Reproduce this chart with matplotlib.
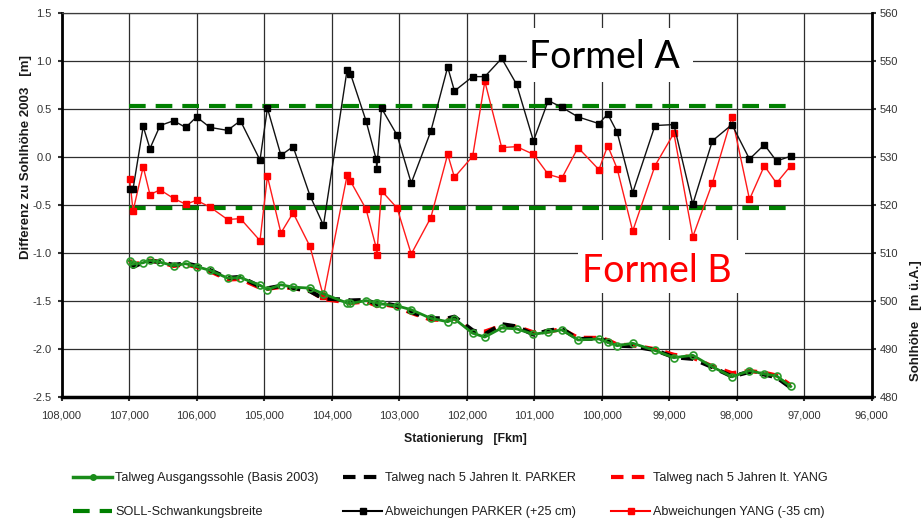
import matplotlib
matplotlib.use("Agg")
import matplotlib.pyplot as plt
from matplotlib.lines import Line2D
from matplotlib.patches import Rectangle
from matplotlib.ticker import MultipleLocator, FuncFormatter
from matplotlib import font_manager

# Stationierung in Fkm
station_km = [106.99, 106.94, 106.79, 106.69, 106.54, 106.34, 106.16, 106.00, 105.80, 105.54,
              105.35, 105.06, 104.95, 104.75, 104.57, 104.32, 104.12, 103.77, 103.72, 103.49,
              103.34, 103.33, 103.26, 103.03, 102.82, 102.53, 102.28, 102.18, 101.91, 101.73,
              101.48, 101.26, 101.01, 100.79, 100.59, 100.35, 100.04, 99.91, 99.77, 99.54,
              99.21, 98.93, 98.65, 98.36, 98.07, 97.81, 97.59, 97.41, 97.20]

# Abweichungen zur Sohlhöhe 2003 [m] (PARKER +25 cm, YANG -35 cm versetzt)
parker_dev = [-0.33, -0.33, 0.32, 0.09, 0.33, 0.38, 0.31, 0.42, 0.31, 0.28,
              0.38, -0.03, 0.51, 0.02, 0.11, -0.40, -0.71, 0.91, 0.87, 0.38,
              -0.02, -0.12, 0.51, 0.23, -0.27, 0.27, 0.94, 0.69, 0.84, 0.84,
              1.03, 0.76, 0.17, 0.59, 0.52, 0.42, 0.35, 0.45, 0.26, -0.37,
              0.33, 0.34, -0.49, 0.17, 0.34, -0.02, 0.13, -0.04, 0.01]
yang_dev = [-0.23, -0.56, -0.10, -0.39, -0.34, -0.43, -0.49, -0.45, -0.52, -0.65,
            -0.64, -0.87, -0.20, -0.79, -0.58, -0.93, -1.45, -0.19, -0.25, -0.54,
            -0.94, -1.02, -0.35, -0.53, -1.01, -0.63, 0.03, -0.21, 0.01, 0.79,
            0.10, 0.11, 0.03, -0.18, -0.22, 0.10, -0.13, 0.12, -0.12, -0.77,
            -0.09, 0.25, -0.83, -0.27, 0.42, -0.44, -0.09, -0.27, -0.09]

# Talweg-Sohlhöhen [m ü.A.]
bed_2003 = [508.4, 507.7, 508.0, 508.5, 508.1, 507.4, 507.8, 507.2, 506.4, 504.8,
            504.9, 503.3, 502.4, 503.4, 502.9, 502.7, 501.5, 499.6, 499.5, 500.1,
            499.7, 499.6, 499.4, 499.0, 498.2, 496.4, 495.7, 496.3, 493.3, 492.5,
            494.4, 494.2, 493.1, 493.5, 494.0, 491.9, 492.1, 491.4, 490.7, 491.2,
            489.7, 488.2, 488.7, 486.3, 484.2, 485.5, 484.8, 484.4, 482.2]
bed_parker = [507.82, 507.12, 508.07, 508.34, 508.18, 507.53, 507.86, 507.37, 506.46, 504.83,
              505.03, 503.02, 502.66, 503.17, 502.76, 502.05, 500.54, 500.26, 500.12, 500.23,
              499.43, 499.23, 499.66, 498.98, 497.68, 496.42, 496.39, 496.74, 493.89, 493.09,
              495.18, 494.71, 493.02, 493.84, 494.27, 492.07, 492.20, 491.60, 490.71, 490.58,
              489.78, 488.29, 487.96, 486.22, 484.29, 485.23, 484.68, 484.11, 481.96]
bed_yang = [508.52, 507.49, 508.25, 508.46, 508.11, 507.32, 507.66, 507.10, 506.23, 504.50,
            504.61, 502.78, 502.55, 502.96, 502.67, 502.12, 500.40, 499.76, 499.60, 499.91,
            499.11, 498.93, 499.40, 498.82, 497.54, 496.12, 496.08, 496.44, 493.66, 493.64,
            494.85, 494.66, 493.48, 493.67, 494.13, 492.35, 492.32, 491.87, 490.93, 490.78,
            489.96, 488.80, 488.22, 486.38, 484.97, 485.41, 485.06, 484.48, 482.46]

# SOLL-Schwankungsbreite [m]
band_km = [107.0, 97.2]
band_upper = 0.53
band_lower = -0.53

GREEN = "#008000"
PROFILE_GREEN = "#1a8c1a"
TICK_COLOR = "#333333"
LABEL_COLOR = "#1a1a1a"

names = {f.name for f in font_manager.fontManager.ttflist}
if "Liberation Sans Narrow" in names:
    legend_font = dict(family="Liberation Sans Narrow", size=10.5)
else:
    legend_font = dict(family="Liberation Sans", size=9.1)
plt.rcParams["font.family"] = ["Liberation Sans", "DejaVu Sans"]

W, H = 923, 520
fig = plt.figure(figsize=(W / 100, H / 100), dpi=100)
x0, x1, y0, y1 = 61.5, 871.7, 13.3, 397.0
ax = fig.add_axes([x0 / W, 1 - y1 / H, (x1 - x0) / W, (y1 - y0) / H])
ax2 = ax.twinx()

ax.set_xlim(108, 96)
ax.set_ylim(-2.5, 1.5)
ax2.set_ylim(480, 560)

ax.xaxis.set_major_locator(MultipleLocator(1))
ax.xaxis.set_major_formatter(FuncFormatter(lambda v, p: f"{v:.3f}".replace(".", ",")))
ax.yaxis.set_major_locator(MultipleLocator(0.5))
ax.yaxis.set_major_formatter(FuncFormatter(lambda v, p: f"{v:.1f}"))
ax2.yaxis.set_major_locator(MultipleLocator(10))

ax.grid(True, color="#2e2e2e", lw=0.9)
ax.set_axisbelow(True)

for a in (ax, ax2):
    a.tick_params(direction="out", length=3, width=1.5, labelsize=8, colors=TICK_COLOR)
ax.tick_params(axis="x", pad=7)
ax.tick_params(axis="y", pad=4)
ax2.tick_params(axis="y", pad=3)

ax.spines["left"].set_linewidth(2)
ax.spines["bottom"].set_linewidth(2.5)
ax.spines["top"].set_linewidth(0.9)
ax.spines["top"].set_color("#3c3c3c")
ax.spines["right"].set_visible(False)
for s in ("left", "bottom", "top"):
    ax2.spines[s].set_visible(False)
ax2.spines["right"].set_linewidth(2)

# white panels behind the formula captions
ax.add_patch(Rectangle((101.106, 0.784), 98.647 - 101.106, 1.347 - 0.784,
                       facecolor="white", edgecolor="none", zorder=1.5))
ax.add_patch(Rectangle((100.35, -1.414), 97.88 - 100.35, 1.414 - 0.862,
                       facecolor="white", edgecolor="none", zorder=1.5))
ax.text(99.96, 0.927, "Formel A", ha="center", va="baseline", fontsize=27,
        family="Lato", color="black", zorder=1.6)
ax.text(99.18, -1.306, "Formel B", ha="center", va="baseline", fontsize=27,
        family="Lato", color="red", zorder=1.6)

# tolerance band
for lvl in (band_upper, band_lower):
    ax.plot(band_km, [lvl, lvl], color=GREEN, lw=3, dashes=(4, 2.4),
            solid_capstyle="butt", dash_capstyle="butt", zorder=2)

# deviations
ax.plot(station_km, yang_dev, color="#ff1a1a", lw=1, marker="s", ms=4.3,
        mfc="red", mec="red", zorder=3)
ax.plot(station_km, parker_dev, color="#111111", lw=1, marker="s", ms=4.3,
        mfc="black", mec="black", zorder=4)

# bed profiles
ax2.plot(station_km, bed_yang, color="red", lw=3, dashes=(3, 2), dash_capstyle="butt")
ax2.plot(station_km, bed_parker, color="black", lw=3, dashes=(3, 2), dash_capstyle="butt")
ax2.plot(station_km, bed_2003, color=PROFILE_GREEN, lw=2, marker="o", ms=5,
         mfc="none", mec="#2a9a2a", mew=1.2)

ax.set_ylabel("Differenz zu Sohlhöhe 2003   [m]", fontsize=9.5, fontweight="bold", color=LABEL_COLOR)
ax.yaxis.set_label_coords(-0.0365, 0.625)
ax2.set_ylabel("Sohlhöhe   [m ü.A.]", fontsize=9.5, fontweight="bold", color=LABEL_COLOR)
ax2.yaxis.set_label_coords(1.0475, 0.198)
ax.set_xlabel("Stationierung   [Fkm]", fontsize=8.8, fontweight="bold", color=LABEL_COLOR)
ax.xaxis.set_label_coords(0.499, -0.095)

# legend in three columns
def col_legend(handles, labels, left_px):
    leg = fig.legend(handles, labels, loc="upper left",
                     bbox_to_anchor=(left_px / W, 1 - 472 / H),
                     frameon=False, borderpad=0, borderaxespad=0,
                     handlelength=3.1, handletextpad=0.25, labelspacing=1.75,
                     prop=legend_font)
    for t in leg.get_texts():
        t.set_color("#1e1e1e")
    return leg

h_base = Line2D([], [], color=PROFILE_GREEN, lw=2.5, marker="o", ms=4, mfc=PROFILE_GREEN, mec=PROFILE_GREEN)
h_band = Line2D([], [], color=GREEN, lw=3, dashes=(4, 2.4))
h_pp = Line2D([], [], color="black", lw=3, dashes=(3, 2))
h_pd = Line2D([], [], color="black", lw=1.5, marker="s", ms=4)
h_yp = Line2D([], [], color="red", lw=3, dashes=(3, 2))
h_yd = Line2D([], [], color="red", lw=1.5, marker="s", ms=4)

col_legend([h_base, h_band], ["Talweg Ausgangssohle (Basis 2003)", "SOLL-Schwankungsbreite"], 73)
col_legend([h_pp, h_pd], ["Talweg nach 5 Jahren lt. PARKER", "Abweichungen PARKER (+25 cm)"], 343)
col_legend([h_yp, h_yd], ["Talweg nach 5 Jahren lt. YANG", "Abweichungen YANG (-35 cm)"], 611)

fig.savefig("out.png", dpi=100)
